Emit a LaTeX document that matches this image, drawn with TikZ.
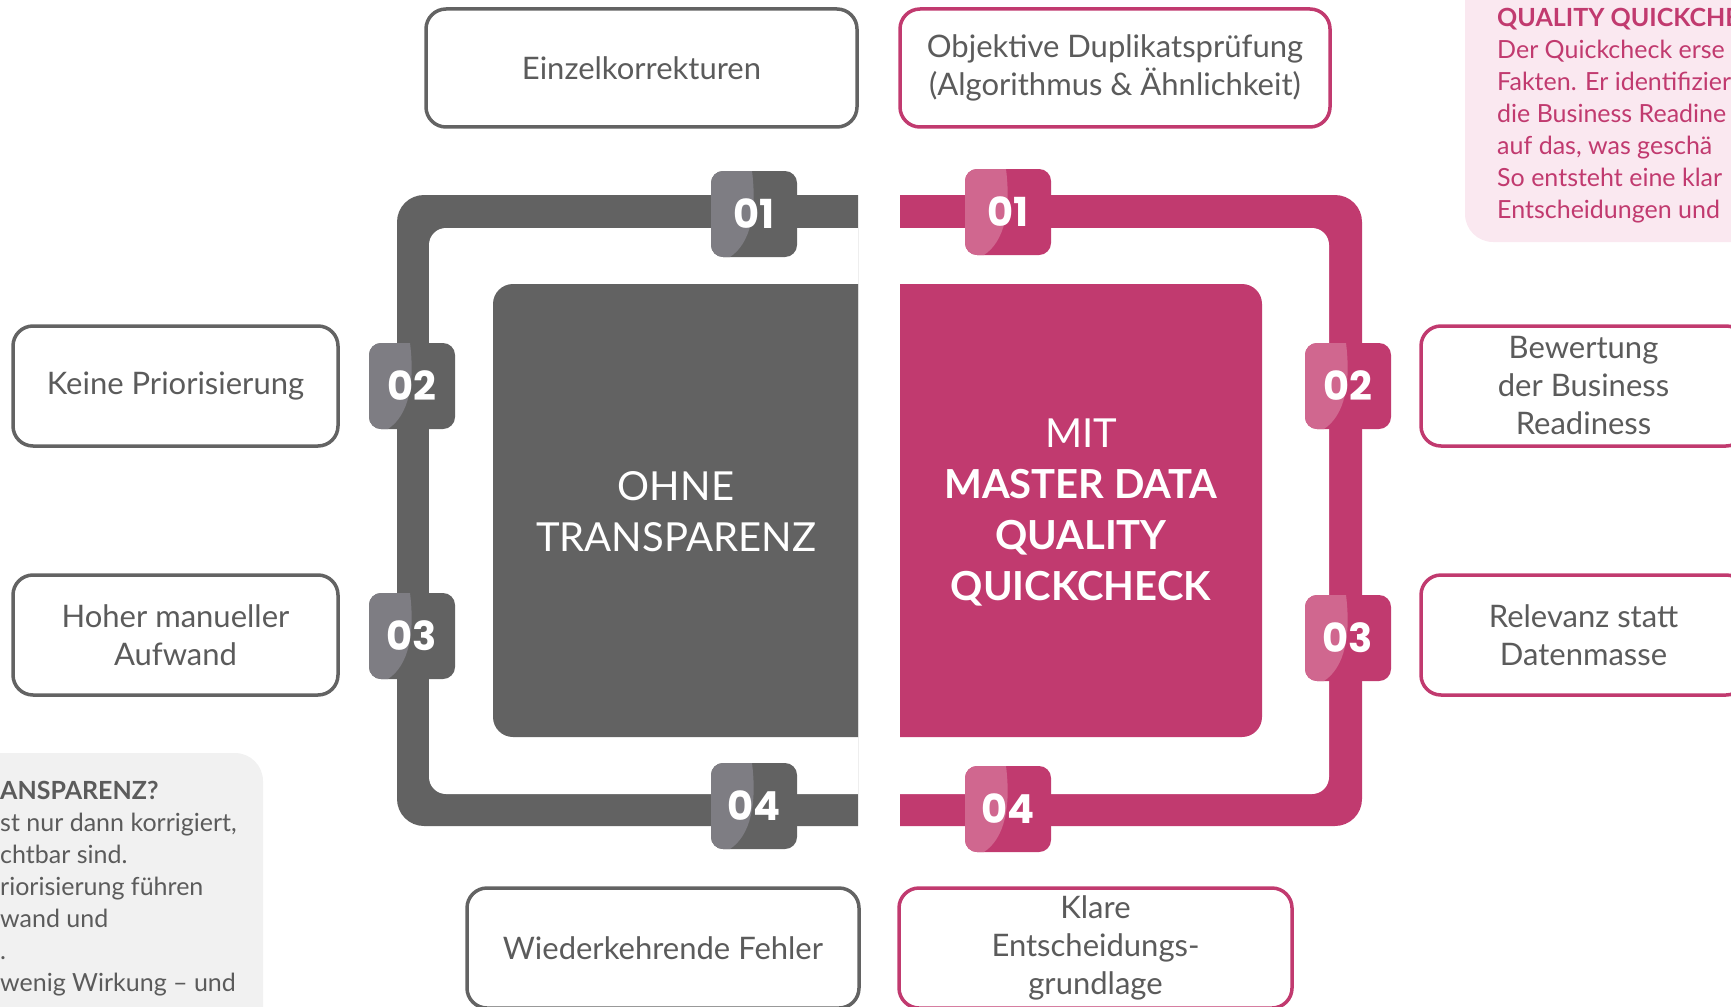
\documentclass[tikz,border=0pt]{standalone}
\usepackage{fontspec}
\setmainfont{Lato}
\newfontfamily\badgefont{Poppins}
\usetikzlibrary{positioning}

\definecolor{ohnegray}{HTML}{626262}
\definecolor{ohnelight}{HTML}{7E7D83}
\definecolor{mitpink}{HTML}{C13A6F}
\definecolor{mitlight}{HTML}{D0678F}
\definecolor{boxgray}{HTML}{636363}
\definecolor{labelgray}{HTML}{5B5B5B}
\definecolor{panelpink}{HTML}{FAE8F0}
\definecolor{panelgray}{HTML}{F1F1F1}

\tikzset{
  textbox/.style={draw=#1, line width=3.5pt, rounded corners=20pt, fill=white,
    text=labelgray, minimum width=325pt, minimum height=120pt, inner sep=0pt,
    align=center, font=\fontsize{31}{38}\selectfont},
  badge/.style 2 args={fill=#1, rounded corners=12pt, minimum size=86pt, inner sep=0pt,
    text=white, font=\badgefont\bfseries\fontsize{40}{40}\selectfont,
    path picture={\fill[#2, sharp corners] (path picture bounding box.north west)
      -- ([xshift=41pt]path picture bounding box.north west)
      .. controls ([xshift=46pt,yshift=-40pt]path picture bounding box.north west)
      and ([xshift=40pt,yshift=-72pt]path picture bounding box.north west)
      .. ([xshift=19pt]path picture bounding box.south west)
      -- (path picture bounding box.south west) -- cycle;}},
  centertext/.style={text=white, align=center, font=\fontsize{40}{51}\selectfont},
  infotext/.style={text=#1, align=left, inner sep=0pt, anchor=north west,
    font=\fontsize{25}{32}\selectfont}
}

\begin{document}
\begin{tikzpicture}[x=1pt,y=-1pt]

	\useasboundingbox (0,0) rectangle (1731,1006);
	\clip (0,0) rectangle (1731,1006);

	% side panels
	\fill[panelpink, rounded corners=28pt] (1465,-40) rectangle (1780,242);
	\node[infotext=mitpink] (quickinfo) at (1497,8)
	  {\textbf{QUALITY QUICKCHE}\\Der Quickcheck erse\\Fakten. Er identifizier\\die Business Readine\\auf das, was geschä\\So entsteht eine klar\\Entscheidungen und};

	\fill[panelgray, rounded corners=28pt] (-40,753) rectangle (263,1050);
	\node[infotext=labelgray] (ohneinfo) at (0,781)
	  {\textbf{ANSPARENZ?}\\st nur dann korrigiert,\\chtbar sind.\\riorisierung führen\\wand und\\.\\wenig Wirkung – und};

	% left frame
	\fill[ohnegray, rounded corners=27pt] (858,195) -- (397,195) -- (397,826) -- (858,826);
	\fill[white, rounded corners=17pt] (858,228) -- (429,228) -- (429,794) -- (858,794);
	\fill[ohnegray, rounded corners=20pt] (858,284) -- (493,284) -- (493,737) -- (858,737);
	\node[centertext] (ohne) at (676,512) {OHNE\\TRANSPARENZ};

	% right frame
	\fill[mitpink, rounded corners=27pt] (900,195) -- (1362,195) -- (1362,826) -- (900,826);
	\fill[white, rounded corners=17pt] (900,228) -- (1329,228) -- (1329,794) -- (900,794);
	\fill[mitpink, rounded corners=20pt] (900,284) -- (1262,284) -- (1262,737) -- (900,737);
	\node[centertext] (mit) at (1081,512)
	  {MIT\\\textbf{MASTER DATA}\\\textbf{QUALITY}\\\textbf{QUICKCHECK}};

	% badges
	\node[badge={ohnegray}{ohnelight}] (ohne1) at (754,214) {01};
	\node[badge={ohnegray}{ohnelight}] (ohne2) at (412,386) {02};
	\node[badge={ohnegray}{ohnelight}] (ohne3) at (412,636) {03};
	\node[badge={ohnegray}{ohnelight}] (ohne4) at (754,806) {04};

	\node[badge={mitpink}{mitlight}] (mit1) at (1008,212) {01};
	\node[badge={mitpink}{mitlight}] (mit2) at (1348,386) {02};
	\node[badge={mitpink}{mitlight}] (mit3) at (1348,638) {03};
	\node[badge={mitpink}{mitlight}] (mit4) at (1008,809) {04};

	% label boxes
	\node[textbox=boxgray, minimum width=431pt, minimum height=118pt] (einzel) at (641.5,68) {Einzelkorrekturen};
	\node[textbox=mitpink, minimum width=430pt, minimum height=118pt] (objektiv) at (1115,68)
	  {Objektive Duplikatsprüfung\\(Algorithmus \& Ähnlichkeit)};

	\node[textbox=boxgray] (keine) at (175.5,386) {Keine Priorisierung};
	\node[textbox=boxgray] (hoher) at (175.5,635) {Hoher manueller\\Aufwand};

	\node[textbox=mitpink] (bewertung) at (1583.5,386) {Bewertung\\der Business\\Readiness};
	\node[textbox=mitpink] (relevanz) at (1583.5,635) {Relevanz statt\\Datenmasse};

	\node[textbox=boxgray, minimum width=392pt] (wieder) at (663,948) {Wiederkehrende Fehler};
	\node[textbox=mitpink, minimum width=393pt] (klare) at (1095.5,948)
	  {Klare\\Entscheidungs-\\grundlage};

\end{tikzpicture}
\end{document}
